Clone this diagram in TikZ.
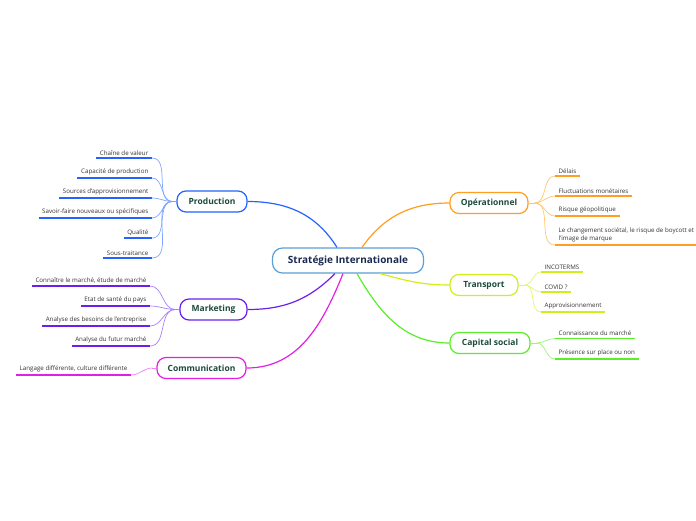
\documentclass[tikz,border=0pt]{standalone}
\usepackage{fontspec}
\setmainfont{Open Sans}
\definecolor{prodc}{HTML}{2463FF}
\definecolor{prodl}{HTML}{7FA6FF}
\definecolor{mktc}{HTML}{6A1FEF}
\definecolor{mktl}{HTML}{A681FA}
\definecolor{comc}{HTML}{E31FE3}
\definecolor{coml}{HTML}{F083F0}
\definecolor{opc}{HTML}{FF9E1F}
\definecolor{opl}{HTML}{FFC672}
\definecolor{trc}{HTML}{D2EE1A}
\definecolor{trl}{HTML}{E3F56E}
\definecolor{capc}{HTML}{5AEE2A}
\definecolor{capl}{HTML}{9DF47C}
\definecolor{ctrb}{HTML}{5B9FD9}
\definecolor{ctrt}{HTML}{1B2A50}
\definecolor{maint}{HTML}{1C4A3B}
\definecolor{leaft}{HTML}{333333}
\tikzset{
  ctr/.style={draw=ctrb, line width=1.2pt, fill=white, rounded corners=10pt,
    minimum width=151pt, minimum height=25pt, text=ctrt,
    font=\fontsize{10}{12}\selectfont\bfseries},
  topic/.style={draw=#1, line width=1.2pt, fill=white, rounded corners=9pt,
    minimum height=21pt, text=maint, font=\fontsize{8.5}{10}\selectfont\bfseries},
  leaf/.style={inner xsep=3.5pt, inner ysep=2.5pt, text=leaft,
    font=\fontsize{6.2}{8.5}\selectfont},
  leafR/.style={leaf, anchor=south west, align=left},
  leafL/.style={leaf, anchor=south east, align=right},
  main/.style={draw=#1, line width=1.2pt},
  ul/.style={draw=#1, line width=1.4pt},
  twig/.style={draw=#1, line width=0.7pt},
}
\begin{document}
\begin{tikzpicture}[x=1pt,y=-1pt]
\useasboundingbox (0,0) rectangle (696,520);
% center
\node[ctr] (c) at (348,260.5) {Stratégie Internationale};
\coordinate (cP) at ([xshift=-11pt]c.north);
\coordinate (cO) at ([xshift=14pt]c.north);
\coordinate (cM) at ([xshift=-13pt]c.south);
\coordinate (cC) at ([xshift=-5pt]c.south);
\coordinate (cK) at ([xshift=9pt]c.south);
\coordinate (cT) at ([xshift=32pt]c.south);
% topics
\node[topic=prodc, minimum width=70pt] (p) at (212,201.5) {Production};
\node[topic=mktc, minimum width=67pt] (m) at (213.5,309.5) {Marketing};
\node[topic=comc, minimum width=89pt] (k) at (201.5,368) {Communication};
\node[topic=opc, minimum width=78pt] (o) at (489,203) {Opérationnel};
\node[topic=trc, minimum width=68pt] (t) at (484,285) {Transport};
\node[topic=capc, minimum width=80pt] (s) at (490,343) {Capital social};
% main connectors
\draw[main=prodc] (cP) to[out=122,in=0] (p.east);
\draw[main=opc] (cO) to[out=55,in=180] (o.west);
\draw[main=mktc] (cM) to[out=-135,in=0] (m.east);
\draw[main=comc] (cC) to[out=-112,in=0] (k.east);
\draw[main=capc] (cK) to[out=-60,in=180] (s.west);
\draw[main=trc] (cT) to[out=-15,in=180] (t.west);
% junctions
\coordinate (pj) at ([xshift=-4pt]p.west);
\coordinate (mj) at ([xshift=-4pt]m.west);
\coordinate (kj) at ([xshift=-4pt]k.west);
\coordinate (oj) at ([xshift=6pt]o.east);
\coordinate (tj) at ([xshift=6pt]t.east);
\coordinate (sj) at ([xshift=6pt]s.east);
\draw[twig=prodl] (p.west) -- (pj);
\draw[twig=mktl] (m.west) -- (mj);
\draw[twig=coml] (k.west) -- (kj);
\draw[twig=opl] (o.east) -- (oj);
\draw[twig=trl] (t.east) -- (tj);
\draw[twig=capl] (s.east) -- (sj);
% Production leaves
\node[leafL] (p1) at (152,158) {Chaîne de valeur};
\node[leafL] (p2) at (152,178) {Capacité de production};
\node[leafL] (p3) at (152,198) {Sources d'approvisionnement};
\node[leafL] (p4) at (152,218) {Savoir-faire nouveaux ou spécifiques};
\node[leafL] (p5) at (152,238) {Qualité};
\node[leafL] (p6) at (152,258) {Sous-traitance};
\foreach \i in {1,...,6}{
  \draw[ul=prodc] (p\i.south west) -- (p\i.south east);
  \draw[twig=prodl] (pj) to[out=180,in=0] (p\i.south east);
}
% Marketing leaves
\node[leafL] (m1) at (150,286) {Connaître le marché, étude de marché};
\node[leafL] (m2) at (150,306) {Etat de santé du pays};
\node[leafL] (m3) at (150,326) {Analyse des besoins de l'entreprise};
\node[leafL] (m4) at (150,346) {Analyse du futur marché};
\foreach \i in {1,...,4}{
  \draw[ul=mktc] (m\i.south west) -- (m\i.south east);
  \draw[twig=mktl] (mj) to[out=180,in=0] (m\i.south east);
}
% Communication leaf
\node[leafL] (k1) at (131,375) {Langage différente, culture différente};
\draw[ul=comc] (k1.south west) -- (k1.south east);
\draw[twig=coml] (kj) to[out=180,in=0] (k1.south east);
% Operationnel leaves
\node[leafR] (o1) at (555,176) {Délais};
\node[leafR] (o2) at (555,196) {Fluctuations monétaires};
\node[leafR] (o3) at (555,216) {Risque géopolitique};
\node[leafR] (o4) at (555,245) {Le changement sociétal, le risque de boycott et l'i\\l'image de marque};
\foreach \i in {1,...,3}{
  \draw[ul=opc] (o\i.south west) -- (o\i.south east);
}
\coordinate (o4e) at (700,245);
\draw[ul=opc] (o4.south west) -- (o4e);
\foreach \i in {1,...,4}{
  \draw[twig=opl] (oj) to[out=0,in=180] (o\i.south west);
}
% Transport leaves
\node[leafR] (t1) at (541,272) {INCOTERMS};
\node[leafR] (t2) at (541,292) {COVID ?};
\node[leafR] (t3) at (541,312) {Approvisionnement};
\foreach \i in {1,...,3}{
  \draw[ul=trc] (t\i.south west) -- (t\i.south east);
  \draw[twig=trl] (tj) to[out=0,in=180] (t\i.south west);
}
% Capital social leaves
\node[leafR] (s1) at (555,338.5) {Connaissance du marché};
\node[leafR] (s2) at (555,359) {Présence sur place ou non};
\foreach \i in {1,2}{
  \draw[ul=capc] (s\i.south west) -- (s\i.south east);
  \draw[twig=capl] (sj) to[out=0,in=180] (s\i.south west);
}
\end{tikzpicture}
\end{document}
